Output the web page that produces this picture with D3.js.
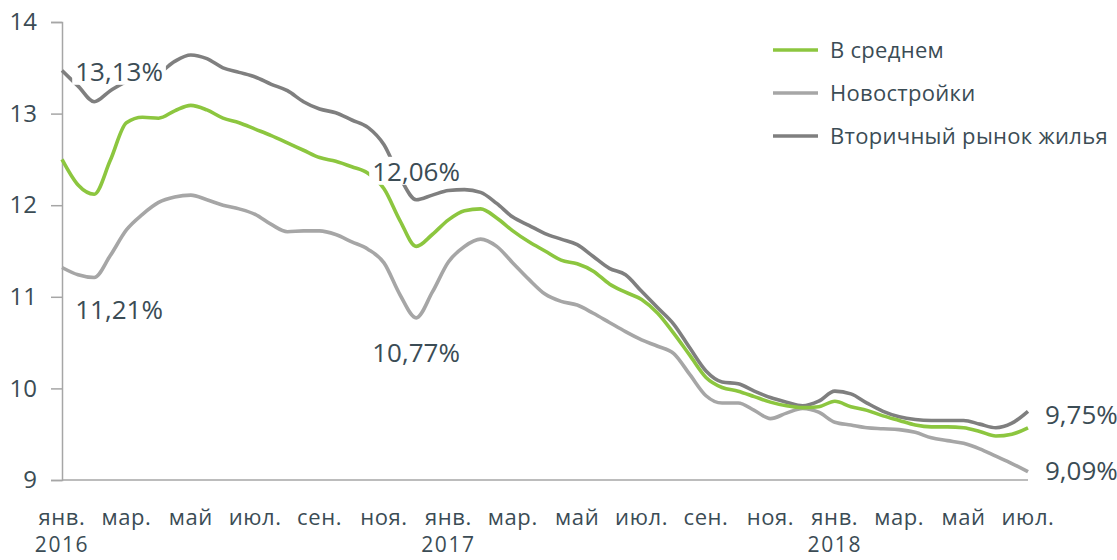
<!DOCTYPE html>
<html>
<head>
<meta charset="utf-8">
<script src="https://d3js.org/d3.v7.min.js"></script>
<style>
  body { margin: 0; background: #fff; }
  text { font-family: "Open Sans", Lato, sans-serif; fill: #3b4c55; }
</style>
</head>
<body>
<svg id="chart" width="1117" height="560"></svg>
<script>
// half-month steps from янв. 2016 to июл. 2018
var step = 0.5;

var avg = [12.50, 12.22, 12.12, 12.49, 12.90, 12.96, 12.95, 13.03, 13.09, 13.04,
           12.95, 12.90, 12.83, 12.76, 12.68, 12.60, 12.52, 12.48, 12.42, 12.35,
           12.18, 11.83, 11.55, 11.68, 11.84, 11.94, 11.96, 11.86, 11.72, 11.60,
           11.50, 11.40, 11.36, 11.28, 11.14, 11.05, 10.97, 10.82, 10.60, 10.36,
           10.12, 10.01, 9.97, 9.91, 9.85, 9.81, 9.79, 9.80, 9.86, 9.80,
           9.76, 9.70, 9.65, 9.60, 9.58, 9.58, 9.57, 9.53, 9.48, 9.50, 9.57];

var newBuild = [11.32, 11.24, 11.21, 11.45, 11.73, 11.90, 12.03, 12.09, 12.11, 12.06,
                12.00, 11.96, 11.90, 11.79, 11.71, 11.72, 11.72, 11.68, 11.60, 11.52,
                11.37, 11.02, 10.77, 11.05, 11.38, 11.55, 11.63, 11.55, 11.37, 11.19,
                11.03, 10.95, 10.91, 10.82, 10.72, 10.62, 10.53, 10.46, 10.38, 10.15,
                9.92, 9.84, 9.84, 9.76, 9.67, 9.73, 9.78, 9.74, 9.63, 9.60,
                9.57, 9.56, 9.55, 9.52, 9.46, 9.43, 9.40, 9.34, 9.26, 9.18, 9.09];

var secondary = [13.47, 13.30, 13.13, 13.25, 13.35, 13.40, 13.44, 13.57, 13.64, 13.60,
                 13.50, 13.45, 13.40, 13.32, 13.25, 13.13, 13.05, 13.01, 12.93, 12.85,
                 12.66, 12.30, 12.06, 12.11, 12.16, 12.17, 12.14, 12.02, 11.87, 11.78,
                 11.69, 11.63, 11.57, 11.44, 11.31, 11.24, 11.06, 10.88, 10.70, 10.44,
                 10.19, 10.07, 10.05, 9.97, 9.90, 9.85, 9.81, 9.86, 9.97, 9.94,
                 9.84, 9.75, 9.69, 9.66, 9.65, 9.65, 9.65, 9.61, 9.57, 9.62, 9.75];

var seriesNames = ["В среднем", "Новостройки", "Вторичный рынок жилья"];
var seriesColors = ["#8cc63f", "#a6a6a6", "#7f7f7f"];

var monthTicks = [0, 2, 4, 6, 8, 10, 12, 14, 16, 18, 20, 22, 24, 26, 28, 30];
var monthLabels = ["янв.", "мар.", "май", "июл.", "сен.", "ноя.",
                   "янв.", "мар.", "май", "июл.", "сен.", "ноя.",
                   "янв.", "мар.", "май", "июл."];
var yearTicks = [0, 12, 24];
var yearLabels = ["2016", "2017", "2018"];

// labelled points: [series index, point index, text, dx, dy]
var callouts = [
  [2, 2, "13,13%", -19, -30],
  [1, 2, "11,21%", -19, 32],
  [2, 22, "12,06%", -44, -28],
  [1, 22, "10,77%", -44, 35],
  [2, 60, "9,75%", 17, 4],
  [1, 60, "9,09%", 17, -1]
];

var svg = d3.select("#chart");
var x = d3.scaleLinear([0, 30], [62, 1028]);
var y = d3.scaleLinear([9, 14], [480, 22]);

// axes
var yAxis = svg.append("g")
  .attr("transform", "translate(62,0)")
  .call(d3.axisLeft(y).tickValues([9, 10, 11, 12, 13, 14]).tickSize(11).tickPadding(14).tickFormat(d3.format("d")));
yAxis.select(".domain").attr("stroke", "#a6a6a6").attr("stroke-width", 1.5);
yAxis.selectAll(".tick line").attr("stroke", "#a6a6a6").attr("stroke-width", 1.5);
yAxis.selectAll(".tick text").style("font-size", "24px").attr("fill", "#3b4c55");

svg.append("line")
  .attr("x1", x(0)).attr("x2", x(30))
  .attr("y1", y(9)).attr("y2", y(9))
  .attr("stroke", "#a6a6a6").attr("stroke-width", 1.5);

svg.append("g").selectAll("text")
  .data(monthTicks)
  .join("text")
  .attr("x", d => x(d))
  .attr("y", 525)
  .attr("text-anchor", "middle")
  .style("font-size", "22px")
  .style("letter-spacing", "0.6px")
  .text((d, i) => monthLabels[i]);

svg.append("g").selectAll("text")
  .data(yearTicks)
  .join("text")
  .attr("x", d => x(d))
  .attr("y", 552)
  .attr("text-anchor", "middle")
  .style("font-size", "21px")
  .style("letter-spacing", "1.6px")
  .text((d, i) => yearLabels[i]);

// lines
var allSeries = [avg, newBuild, secondary];
var line = d3.line()
  .x((d, i) => x(i * step))
  .y(d => y(d))
  .curve(d3.curveMonotoneX);

svg.append("g").selectAll("path")
  .data([1, 2, 0])
  .join("path")
  .attr("d", k => line(allSeries[k]))
  .attr("fill", "none")
  .attr("stroke", k => seriesColors[k])
  .attr("stroke-width", 3.6)
  .attr("stroke-linejoin", "round");

// callouts with white box
var lab = svg.append("g").selectAll("g")
  .data(callouts)
  .join("g")
  .attr("transform", c => "translate(" + (x(c[1] * step) + c[3]) + "," + (y(allSeries[c[0]][c[1]]) + c[4]) + ")");
lab.append("rect").attr("fill", "#fff");
lab.append("text")
  .attr("dy", "0.35em")
  .style("font-size", "26px")
  .text(c => c[2]);
lab.each(function() {
  var b = d3.select(this).select("text").node().getBBox();
  d3.select(this).select("rect")
    .attr("x", b.x - 3).attr("y", b.y + 4)
    .attr("width", b.width + 6).attr("height", b.height - 8);
});

// legend
var leg = svg.append("g").selectAll("g")
  .data(seriesNames)
  .join("g")
  .attr("transform", (d, i) => "translate(773," + (50 + i * 43) + ")");
leg.append("line")
  .attr("x1", 0).attr("x2", 45)
  .attr("stroke", (d, i) => seriesColors[i])
  .attr("stroke-width", 3.6);
leg.append("text")
  .attr("x", 57)
  .attr("dy", "0.35em")
  .style("font-size", "22px")
  .style("letter-spacing", "0.3px")
  .text(d => d);
</script>
</body>
</html>
